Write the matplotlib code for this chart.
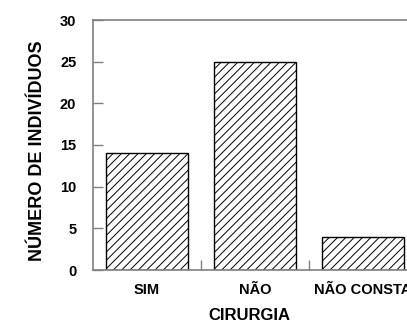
import matplotlib
matplotlib.use("Agg")
import matplotlib.pyplot as plt
import numpy as np

categories = ["SIM", "NÃO", "NÃO CONSTA"]
values = [14, 25, 4]
yticks = [0, 5, 10, 15, 20, 25, 30]

plt.rcParams['font.family'] = ['Liberation Sans', 'DejaVu Sans']
plt.rcParams['hatch.linewidth'] = 0.7

fig = plt.figure(figsize=(4.07, 3.22), dpi=100)
ax = fig.add_axes([93/407, 1-270/322, 324/407, 250/322])

x = np.arange(len(categories))
ax.bar(x, values, width=0.76, color='white', edgecolor='black', hatch='////', linewidth=1.0)

ax.set_xlim(-0.5, 2.5)
ax.set_ylim(0, 30)
ax.set_yticks(yticks)
ax.set_yticklabels([str(v) for v in yticks], fontsize=10.5, fontweight='bold')
ax.set_xticks(x)
ax.set_xticklabels(categories, fontsize=10.5, fontweight='bold')
ax.set_xticks([0.5, 1.5], minor=True)

gray = '#808080'
for s in ['left', 'bottom', 'top']:
    ax.spines[s].set_color(gray)
    ax.spines[s].set_linewidth(1.2)
ax.spines['right'].set_visible(False)

ax.tick_params(axis='y', direction='in', length=7, color=gray, width=1, pad=12)
ax.tick_params(axis='x', which='major', length=0, pad=9)
ax.tick_params(axis='x', which='minor', direction='in', length=7, color=gray, width=1)

ylab = ax.set_ylabel("NÚMERO DE INDIVÍDUOS", fontsize=13, fontweight='bold')
ylab.set_va('baseline')
ax.yaxis.set_label_coords((42-93)/324, (270-150.5)/250)

xlab = ax.set_xlabel("CIRURGIA", fontsize=12, fontweight='bold')
xlab.set_va('baseline')
ax.xaxis.set_label_coords((249-93)/324, (270-319.5)/250)

fig.savefig("out.png", dpi=100)
